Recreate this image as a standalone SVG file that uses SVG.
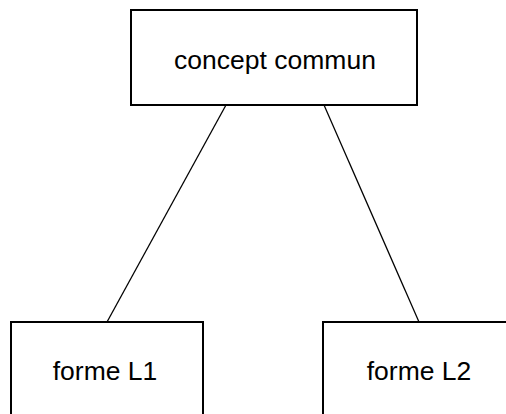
<svg xmlns="http://www.w3.org/2000/svg" width="506" height="414" viewBox="0 0 506 414">
<style>
.box{fill:#fff;stroke:#000;stroke-width:2}
.lbl{font-family:"Liberation Sans",Arial,sans-serif;font-size:26.5px;fill:#000;text-anchor:middle}
.edge{stroke:#000;stroke-width:1.3;fill:none}
</style>
<rect width="506" height="414" fill="#fff"/>
<g id="connectors">
<line class="edge" x1="226" y1="105" x2="107" y2="322"/>
<line class="edge" x1="324" y1="105" x2="419" y2="322"/>
</g>
<g id="concept">
<rect class="box" x="131" y="10" width="286" height="95"/>
<text class="lbl" x="275" y="69">concept commun</text>
</g>
<g id="formeL1">
<rect class="box" x="11" y="322" width="192" height="110"/>
<text class="lbl" x="105" y="380">forme L1</text>
</g>
<g id="formeL2">
<rect class="box" x="323" y="322" width="192" height="110"/>
<text class="lbl" x="419" y="380">forme L2</text>
</g>
</svg>
